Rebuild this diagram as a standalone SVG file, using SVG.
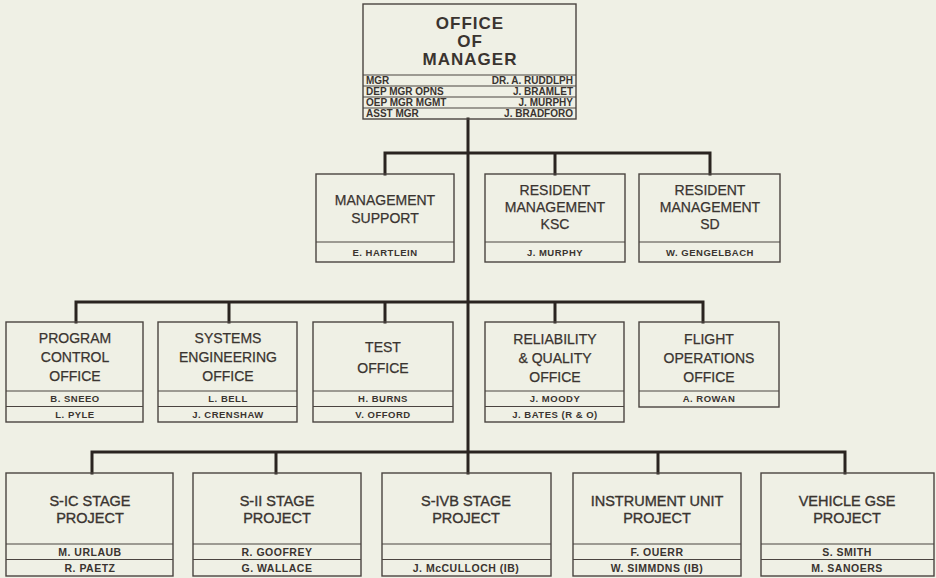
<svg xmlns="http://www.w3.org/2000/svg" width="936" height="578" viewBox="0 0 936 578">
<style>
.bg{fill:#eff0e5}
.box{fill:none;stroke:#4a4440;stroke-width:1.4}
.div{stroke:#4a4440;stroke-width:1.2}
.conn{stroke:#2a2420;stroke-width:3;fill:none;stroke-linecap:square}
text{font-family:"Liberation Sans",Arial,Helvetica,sans-serif;fill:#3a3430}
.t{font-size:14px;text-anchor:middle;stroke:#3a3430;stroke-width:0.25}
.t4{font-size:14.5px;text-anchor:middle;stroke:#3a3430;stroke-width:0.35}
.h{font-size:17px;font-weight:bold;text-anchor:middle;letter-spacing:1px}
.n{font-size:9.5px;font-weight:bold;text-anchor:middle;letter-spacing:0.5px}
.n4{font-size:10.5px;font-weight:bold;text-anchor:middle;letter-spacing:0.5px}
.r{font-size:10px;font-weight:bold}
.re{font-size:10px;font-weight:bold;text-anchor:end}
</style>
<rect class="bg" x="0" y="0" width="936" height="578"/>
<g id="connectors">
<path class="conn" d="M468 119 V473"/>
<path class="conn" d="M385 174 V153 H710 V174 M555 153 V174"/>
<path class="conn" d="M76 322 V302 H703 V322 M229 302 V322 M385 302 V322 M555 302 V322"/>
<path class="conn" d="M92 473 V452 H845 V473 M276 452 V473 M658 452 V473"/>
</g>
<g id="office-of-manager">
<rect class="box" x="363" y="4" width="213" height="115"/>
<line class="div" x1="363" y1="75" x2="576" y2="75"/>
<line class="div" x1="363" y1="86" x2="576" y2="86"/>
<line class="div" x1="363" y1="97" x2="576" y2="97"/>
<line class="div" x1="363" y1="108" x2="576" y2="108"/>
<text class="h" x="470" y="29">OFFICE</text>
<text class="h" x="470" y="47">OF</text>
<text class="h" x="470" y="65">MANAGER</text>
<text class="r" x="366" y="84">MGR</text><text class="re" x="573" y="84">DR. A. RUDDLPH</text>
<text class="r" x="366" y="95">DEP MGR OPNS</text><text class="re" x="573" y="95">J. BRAMLET</text>
<text class="r" x="366" y="106">OEP MGR MGMT</text><text class="re" x="573" y="106">J. MURPHY</text>
<text class="r" x="366" y="117">ASST MGR</text><text class="re" x="573" y="117">J. BRADFORO</text>
</g>
<g id="management-support">
<rect class="box" x="316" y="174" width="138" height="88"/>
<line class="div" x1="316" y1="242" x2="454" y2="242"/>
<text class="t" x="385" y="205">MANAGEMENT</text>
<text class="t" x="385" y="223">SUPPORT</text>
<text class="n" x="385" y="256">E. HARTLEIN</text>
</g>
<g id="resident-ksc">
<rect class="box" x="485" y="174" width="140" height="88"/>
<line class="div" x1="485" y1="242" x2="625" y2="242"/>
<text class="t" x="555" y="195">RESIDENT</text>
<text class="t" x="555" y="212">MANAGEMENT</text>
<text class="t" x="555" y="229">KSC</text>
<text class="n" x="555" y="256">J. MURPHY</text>
</g>
<g id="resident-sd">
<rect class="box" x="639" y="174" width="141" height="88"/>
<line class="div" x1="639" y1="242" x2="780" y2="242"/>
<text class="t" x="710" y="195">RESIDENT</text>
<text class="t" x="710" y="212">MANAGEMENT</text>
<text class="t" x="710" y="229">SD</text>
<text class="n" x="710" y="256">W. GENGELBACH</text>
</g>
<g id="program-control">
<rect class="box" x="6" y="322" width="137" height="100"/>
<line class="div" x1="6" y1="391" x2="143" y2="391"/>
<line class="div" x1="6" y1="406.5" x2="143" y2="406.5"/>
<text class="t" x="75" y="343">PROGRAM</text>
<text class="t" x="75" y="362">CONTROL</text>
<text class="t" x="75" y="381">OFFICE</text>
<text class="n" x="75" y="402">B. SNEEO</text>
<text class="n" x="75" y="418">L. PYLE</text>
</g>
<g id="systems-engineering">
<rect class="box" x="158" y="322" width="139" height="100"/>
<line class="div" x1="158" y1="391" x2="297" y2="391"/>
<line class="div" x1="158" y1="406.5" x2="297" y2="406.5"/>
<text class="t" x="228" y="343">SYSTEMS</text>
<text class="t" x="228" y="362">ENGINEERING</text>
<text class="t" x="228" y="381">OFFICE</text>
<text class="n" x="228" y="402">L. BELL</text>
<text class="n" x="228" y="418">J. CRENSHAW</text>
</g>
<g id="test-office">
<rect class="box" x="313" y="322" width="140" height="100"/>
<line class="div" x1="313" y1="391" x2="453" y2="391"/>
<line class="div" x1="313" y1="406.5" x2="453" y2="406.5"/>
<text class="t" x="383" y="352">TEST</text>
<text class="t" x="383" y="373">OFFICE</text>
<text class="n" x="383" y="402">H. BURNS</text>
<text class="n" x="383" y="418">V. OFFORD</text>
</g>
<g id="reliability-quality">
<rect class="box" x="485" y="322" width="139" height="100"/>
<line class="div" x1="485" y1="391" x2="624" y2="391"/>
<line class="div" x1="485" y1="406.5" x2="624" y2="406.5"/>
<text class="t" x="555" y="344">RELIABILITY</text>
<text class="t" x="555" y="363">&amp; QUALITY</text>
<text class="t" x="555" y="382">OFFICE</text>
<text class="n" x="555" y="402">J. MOODY</text>
<text class="n" x="555" y="418">J. BATES (R &amp; O)</text>
</g>
<g id="flight-operations">
<rect class="box" x="639" y="322" width="140" height="85"/>
<line class="div" x1="639" y1="391" x2="779" y2="391"/>
<text class="t" x="709" y="344">FLIGHT</text>
<text class="t" x="709" y="363">OPERATIONS</text>
<text class="t" x="709" y="382">OFFICE</text>
<text class="n" x="709" y="402">A. ROWAN</text>
</g>
<g id="s-ic-stage">
<rect class="box" x="6" y="473" width="167" height="103"/>
<line class="div" x1="6" y1="544" x2="173" y2="544"/>
<line class="div" x1="6" y1="559.5" x2="173" y2="559.5"/>
<text class="t4" x="90" y="506">S-IC STAGE</text>
<text class="t4" x="90" y="523">PROJECT</text>
<text class="n4" x="90" y="555.5">M. URLAUB</text>
<text class="n4" x="90" y="572">R. PAETZ</text>
</g>
<g id="s-ii-stage">
<rect class="box" x="193" y="473" width="168" height="103"/>
<line class="div" x1="193" y1="544" x2="361" y2="544"/>
<line class="div" x1="193" y1="559.5" x2="361" y2="559.5"/>
<text class="t4" x="277" y="506">S-II STAGE</text>
<text class="t4" x="277" y="523">PROJECT</text>
<text class="n4" x="277" y="555.5">R. GOOFREY</text>
<text class="n4" x="277" y="572">G. WALLACE</text>
</g>
<g id="s-ivb-stage">
<rect class="box" x="382" y="473" width="169" height="103"/>
<line class="div" x1="382" y1="544" x2="551" y2="544"/>
<line class="div" x1="382" y1="559.5" x2="551" y2="559.5"/>
<text class="t4" x="466" y="506">S-IVB STAGE</text>
<text class="t4" x="466" y="523">PROJECT</text>
<text class="n4" x="466" y="572">J. McCULLOCH (IB)</text>
</g>
<g id="instrument-unit">
<rect class="box" x="573" y="473" width="168" height="103"/>
<line class="div" x1="573" y1="544" x2="741" y2="544"/>
<line class="div" x1="573" y1="559.5" x2="741" y2="559.5"/>
<text class="t4" x="657" y="506">INSTRUMENT UNIT</text>
<text class="t4" x="657" y="523">PROJECT</text>
<text class="n4" x="657" y="555.5">F. OUERR</text>
<text class="n4" x="657" y="572">W. SIMMDNS (IB)</text>
</g>
<g id="vehicle-gse">
<rect class="box" x="761" y="473" width="173" height="103"/>
<line class="div" x1="761" y1="544" x2="934" y2="544"/>
<line class="div" x1="761" y1="559.5" x2="934" y2="559.5"/>
<text class="t4" x="847" y="506">VEHICLE GSE</text>
<text class="t4" x="847" y="523">PROJECT</text>
<text class="n4" x="847" y="555.5">S. SMITH</text>
<text class="n4" x="847" y="572">M. SANOERS</text>
</g>
</svg>
